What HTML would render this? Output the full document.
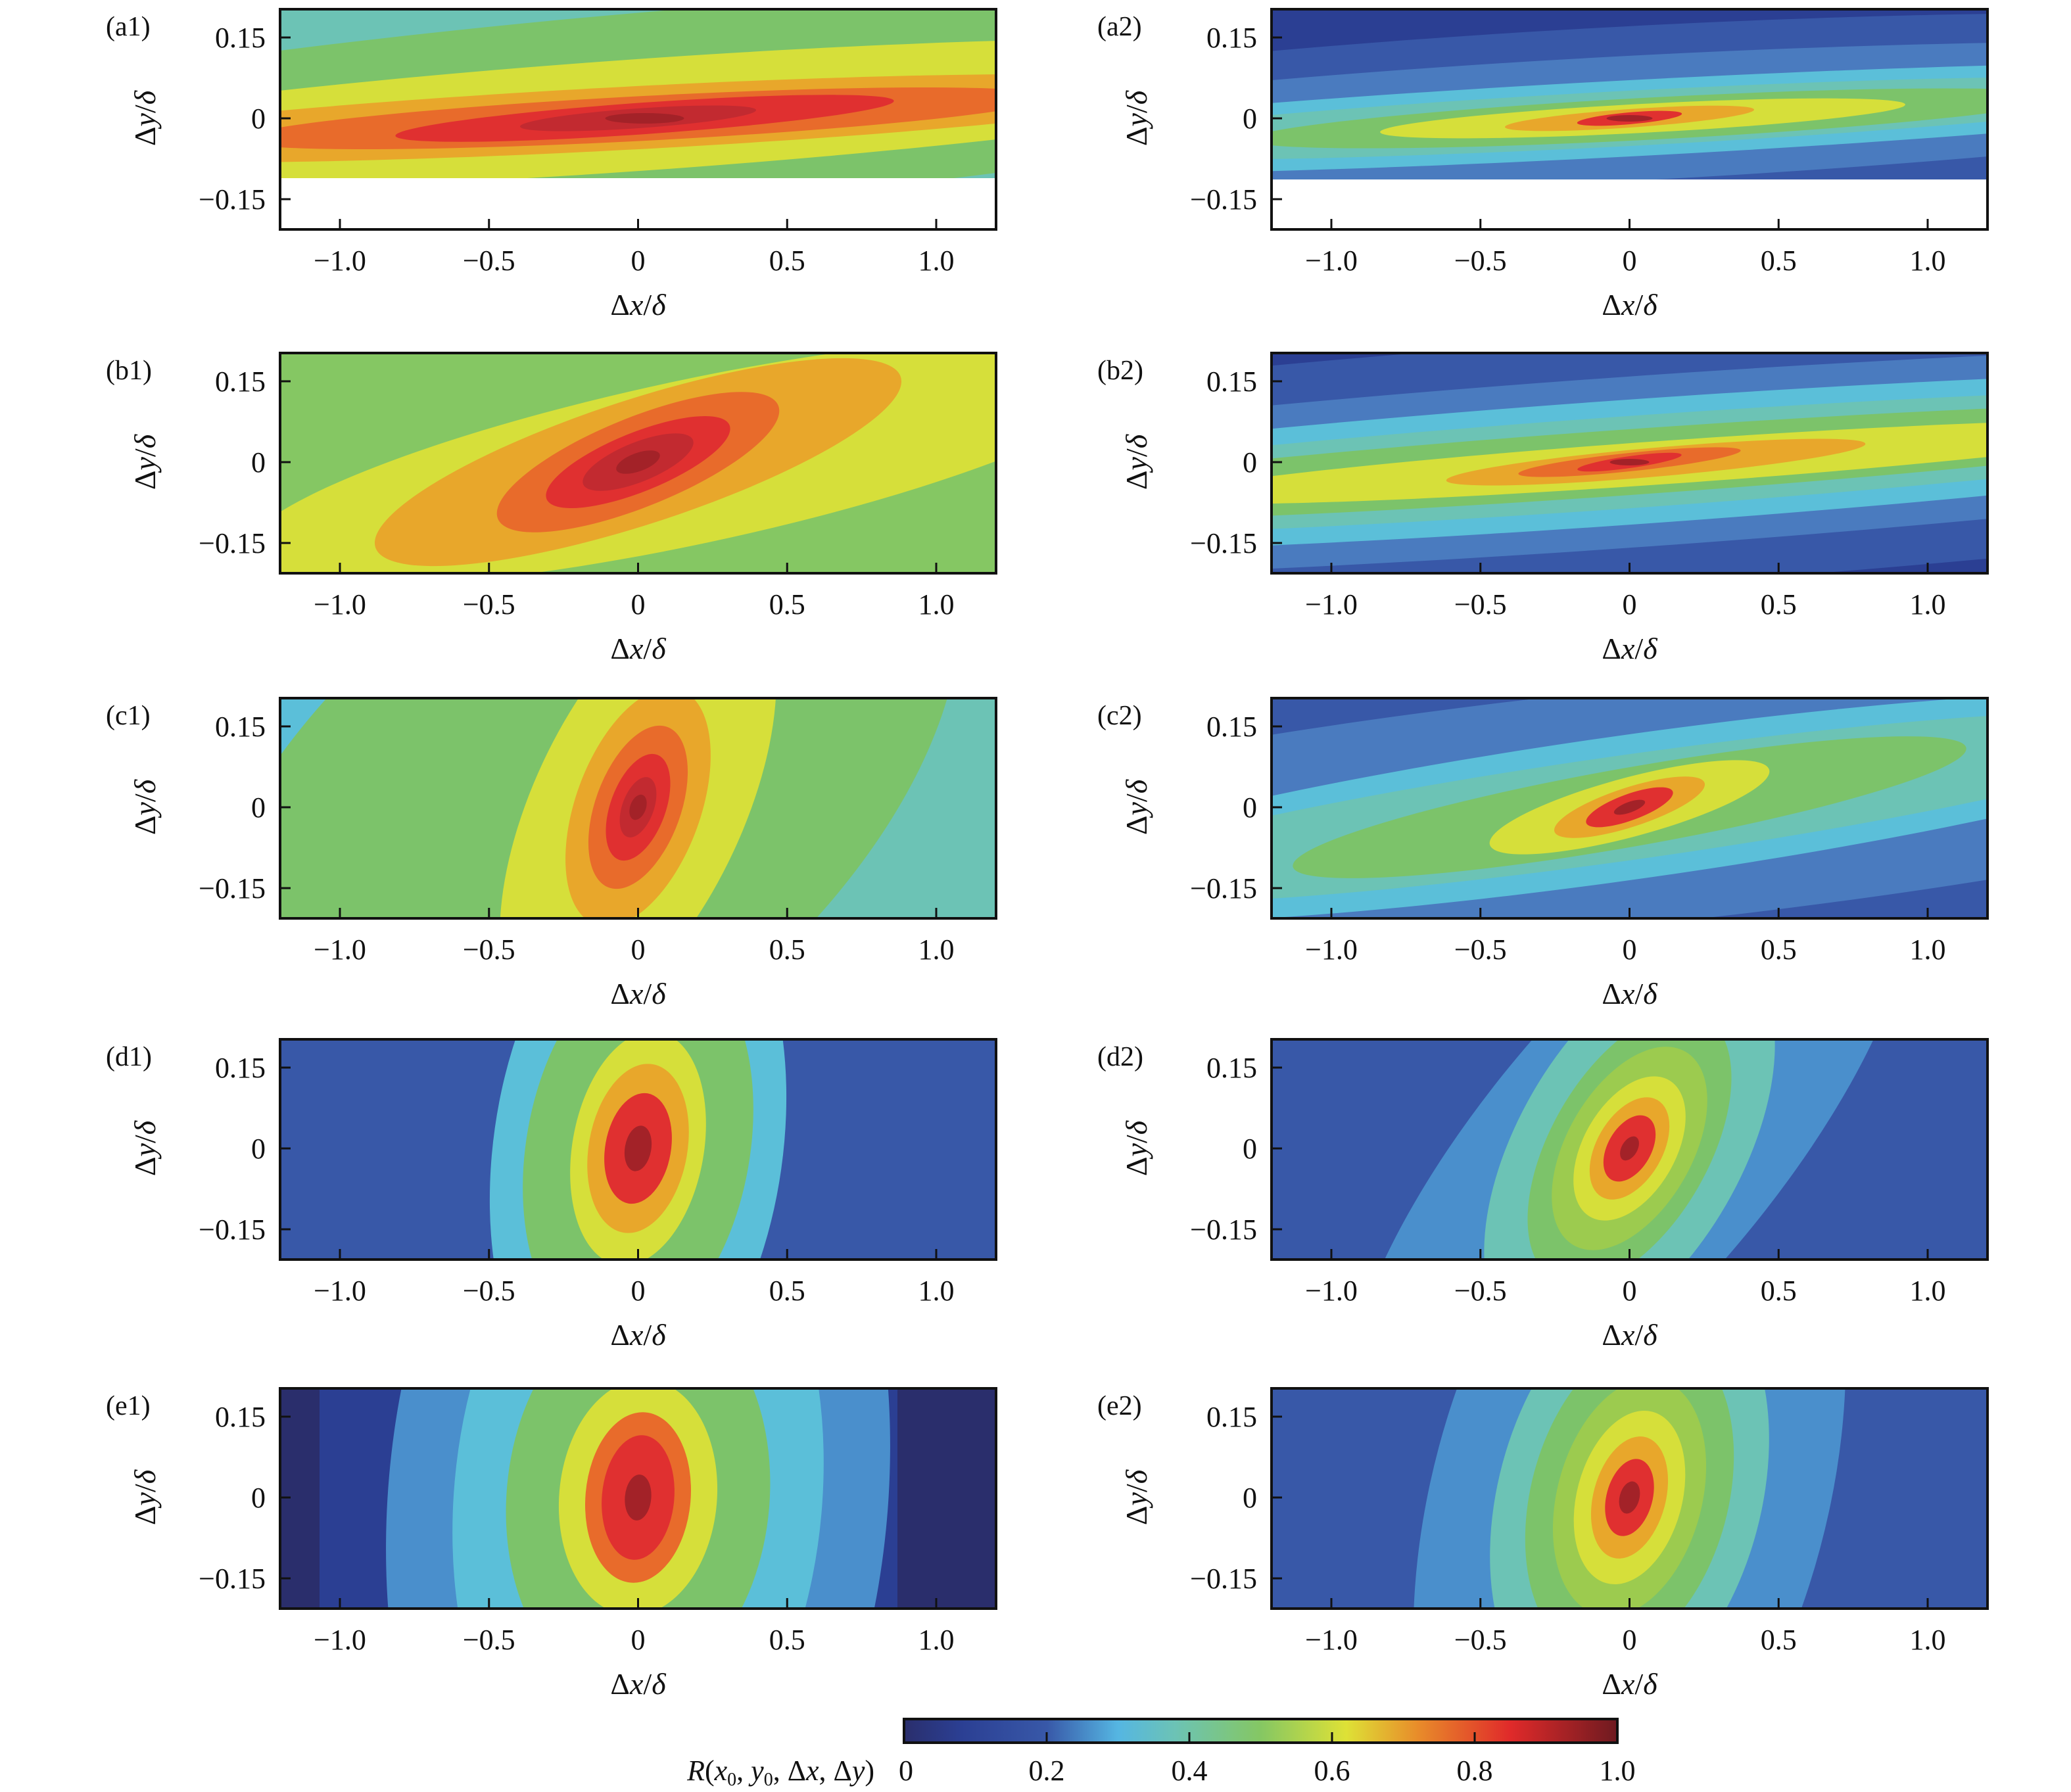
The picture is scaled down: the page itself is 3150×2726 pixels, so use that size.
<!DOCTYPE html>
<html><head><meta charset="utf-8"><style>html,body{margin:0;padding:0;background:#fff;overflow:hidden;width:3150px;height:2726px}svg{display:block}</style></head>
<body>
<svg id="s" xmlns="http://www.w3.org/2000/svg" width="3150" height="2726" viewBox="0 0 3150 2726" font-family="Liberation Serif, serif">
<defs>
<linearGradient id="cb" x1="0" x2="1" y1="0" y2="0">
<stop offset="0" stop-color="#2a2e6c"/><stop offset="0.08" stop-color="#2b3f93"/><stop offset="0.2" stop-color="#3858a8"/>
<stop offset="0.3" stop-color="#55b6e2"/><stop offset="0.38" stop-color="#6cc3b5"/><stop offset="0.5" stop-color="#85c763"/>
<stop offset="0.62" stop-color="#dee136"/><stop offset="0.72" stop-color="#e88c2a"/><stop offset="0.85" stop-color="#e02a2a"/>
<stop offset="1" stop-color="#6e1a20"/></linearGradient>
</defs>
<g id="panels"></g>
<rect x="1375" y="2615" width="1085" height="36" fill="url(#cb)" stroke="#111" stroke-width="4"/>
<g stroke="#111" stroke-width="3"><line x1="1592" y1="2651" x2="1592" y2="2635"/><line x1="1809" y1="2651" x2="1809" y2="2635"/><line x1="2026" y1="2651" x2="2026" y2="2635"/><line x1="2243" y1="2651" x2="2243" y2="2635"/></g>
<g font-size="44" text-anchor="middle" fill="#111">
<text x="1378" y="2708">0</text><text x="1592" y="2708">0.2</text><text x="1809" y="2708">0.4</text><text x="2026" y="2708">0.6</text><text x="2243" y="2708">0.8</text><text x="2460" y="2708">1.0</text>
<text x="1330" y="2708" text-anchor="end"><tspan font-style="italic">R</tspan>(<tspan font-style="italic">x</tspan><tspan font-size="28" dy="8">0</tspan><tspan dy="-8">, </tspan><tspan font-style="italic">y</tspan><tspan font-size="28" dy="8">0</tspan><tspan dy="-8">, Δ</tspan><tspan font-style="italic">x</tspan>, Δ<tspan font-style="italic">y</tspan>)</text>
</g>
</svg>
<script>
const NS="http://www.w3.org/2000/svg";
const g=document.getElementById('panels');
function el(t,a,p){const e=document.createElementNS(NS,t);for(const k in a)e.setAttribute(k,a[k]);(p||g).appendChild(e);return e;}
const W=1089,H=335;
const panels=[
{n:"a1",x:426,y:14,bg:"#6cc3b5",clipB:271,L:[["#7cc36a",1500,150,-5,0,-10],["#d6df3a",1150,85,-4,0,-5],["#e8a72b",900,48,-3,-20,0],["#e86b2b",620,34,-3,10,0],["#e03030",380,24,-4,10,0],["#c22a30",180,15,-4,0,0],["#a32228",60,8,0,10,0]]},
{n:"a2",x:1934,y:14,bg:"#2b3f93",clipB:273,L:[["#3858a8",1500,140,-3,0,0],["#4a7bbf",1300,95,-3,0,0],["#5bbfd9",1200,58,-3,0,0],["#6cc3b5",900,42,-3,0,0],["#7cc36a",620,32,-3,40,0],["#d6df3a",400,22,-3,20,0],["#e8a72b",190,14,-4,0,0],["#e03030",80,9,-5,0,0],["#a32228",35,5,0,0,0]]},
{n:"b1",x:426,y:537,bg:"#6cc3b5",L:[["#85c763",2000,260,-6,0,0],["#d6df3a",700,125,-12,80,0],["#e8a72b",420,95,-18,0,0],["#e86b2b",230,68,-22,0,0],["#e03030",150,45,-22,0,0],["#c22a30",90,30,-22,0,0],["#a32228",35,14,-20,0,0]]},
{n:"b2",x:1934,y:537,bg:"#2b3f93",L:[["#3858a8",2200,190,-4,0,0],["#4a7bbf",1800,130,-4,0,0],["#5bbfd9",1500,95,-4,0,0],["#6cc3b5",1300,70,-4,0,0],["#7cc36a",1100,50,-4,0,0],["#d6df3a",780,33,-4,60,0],["#e8a72b",320,22,-5,40,0],["#e86b2b",170,14,-6,0,0],["#e03030",80,9,-8,0,0],["#a32228",30,5,0,0,0]]},
{n:"c1",x:426,y:1062,bg:"#6cc3b5",L:[["#5bbfd9",300,120,-10,-500,-150],["#7cc36a",700,380,-40,-100,0],["#d6df3a",360,160,-65,0,0],["#e8a72b",190,95,-70,0,0],["#e86b2b",130,65,-70,0,0],["#e03030",85,42,-70,0,0],["#c22a30",48,24,-70,0,0],["#a32228",20,12,-70,0,0]]},
{n:"c2",x:1934,y:1062,bg:"#2b3f93",L:[["#3858a8",1800,250,-6,0,0],["#4a7bbf",1400,180,-6,0,0],["#5bbfd9",1000,110,-8,0,0],["#6cc3b5",880,80,-8,0,0],["#7cc36a",520,60,-10,0,0],["#d6df3a",220,45,-15,0,0],["#e8a72b",120,30,-18,0,0],["#e03030",70,20,-20,0,0],["#a32228",25,8,-20,0,0]]},
{n:"d1",x:426,y:1581,bg:"#2b3f93",L:[["#3858a8",600,700,10,0,0],["#5bbfd9",220,420,8,0,0],["#7cc36a",170,300,10,0,0],["#d6df3a",100,180,10,0,0],["#e8a72b",75,130,10,0,0],["#e03030",50,85,10,0,0],["#a32228",20,35,10,0,0]]},
{n:"d2",x:1934,y:1581,bg:"#3858a8",L:[["#4a8fcc",620,220,-50,0,0],["#6cc3b5",330,170,-60,0,0],["#7cc36a",230,120,-60,0,0],["#9ccb4f",170,95,-60,0,0],["#d6df3a",120,70,-60,0,0],["#e8a72b",85,50,-60,0,0],["#e03030",55,33,-60,0,0],["#a32228",20,12,-60,0,0]]},
{n:"e1",x:426,y:2112,bg:"#2b3f93",edge:true,L:[["#4a8fcc",380,700,5,0,0],["#5bbfd9",280,500,5,0,0],["#7cc36a",200,300,5,0,0],["#d6df3a",120,180,5,0,0],["#e86b2b",80,130,5,0,0],["#e03030",55,95,5,0,0],["#a32228",20,35,5,0,0]]},
{n:"e2",x:1934,y:2112,bg:"#3858a8",L:[["#4a8fcc",300,600,15,0,0],["#6cc3b5",200,340,15,0,0],["#7cc36a",150,250,15,0,0],["#9ccb4f",110,185,15,0,0],["#d6df3a",80,135,15,0,0],["#e8a72b",55,95,15,0,0],["#e03030",35,60,15,0,0],["#a32228",15,25,15,0,0]]}
];
panels.forEach((p,i)=>{
  const cid="c"+i, cl=el("clipPath",{id:cid});
  const bh=(p.clipB?p.clipB:p.y+H)-p.y;
  el("rect",{x:p.x,y:p.y,width:W,height:bh},cl);
  const gg=el("g",{"clip-path":"url(#"+cid+")"});
  el("rect",{x:p.x,y:p.y,width:W,height:bh,fill:p.bg},gg);
  if(p.edge){el("rect",{x:p.x,y:p.y,width:60,height:H,fill:"#2a2e6c"},gg);el("rect",{x:p.x+W-150,y:p.y,width:150,height:H,fill:"#2a2e6c"},gg);}
  const cx=p.x+544.5, cy=p.y+166;
  p.L.forEach(l=>{el("ellipse",{cx:cx+l[4],cy:cy+l[5],rx:l[1],ry:l[2],fill:l[0],transform:`rotate(${l[3]} ${cx+l[4]} ${cy+l[5]})`},gg);});
  el("rect",{x:p.x,y:p.y,width:W,height:H,fill:"none",stroke:"#111","stroke-width":4});
  [-1,-0.5,0,0.5,1].forEach(v=>{const X=cx+v*453.5;el("line",{x1:X,y1:p.y+H,x2:X,y2:p.y+H-16,stroke:"#111","stroke-width":3});
    const t=el("text",{x:X,y:p.y+H+62,"font-size":44,"text-anchor":"middle",fill:"#111"});t.textContent=(v==0?"0":(v<0?"−":"")+Math.abs(v).toFixed(1));});
  [[0.15,"0.15"],[0,"0"],[-0.15,"−0.15"]].forEach(a=>{const Y=cy-a[0]*820;el("line",{x1:p.x,y1:Y,x2:p.x+16,y2:Y,stroke:"#111","stroke-width":3});
    const t=el("text",{x:p.x-22,y:Y+15,"font-size":44,"text-anchor":"end",fill:"#111"});t.textContent=a[1];});
  const xl=el("text",{x:cx,y:p.y+H+130,"font-size":46,"text-anchor":"middle",fill:"#111"});
  xl.innerHTML='Δ<tspan font-style="italic">x</tspan>/<tspan font-style="italic">δ</tspan>';
  const yx=p.x-190;
  const yl=el("text",{x:yx,y:cy,"font-size":46,"text-anchor":"middle",fill:"#111",transform:`rotate(-90 ${yx} ${cy})`});
  yl.innerHTML='Δ<tspan font-style="italic">y</tspan>/<tspan font-style="italic">δ</tspan>';
  const pl=el("text",{x:p.x-265,y:p.y+40,"font-size":42,fill:"#111"});pl.textContent="("+p.n+")";
});
</script>
</body></html>
